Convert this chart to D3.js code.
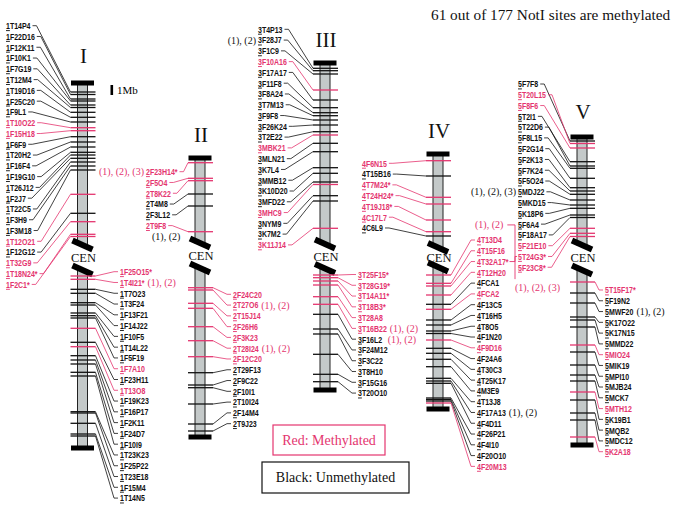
<!DOCTYPE html>
<html><head><meta charset="utf-8">
<script src="https://cdn.jsdelivr.net/npm/d3@7"></script>
<style>body{margin:0;background:#fff}svg{display:block}</style>
</head><body>
<svg id="chart" width="680" height="506"></svg>
<script>
// ---------------- DATA ----------------
const titleText = "61 out of 177 NotI sites are methylated";
const legendLabels = ["Red: Methylated", "Black: Unmethylated"];
const scaleLabel = "1Mb";

const chromosomes   = ["I", "II", "III", "IV", "V"];
const chromLengthMb = [36.5, 27.9, 32.7, 25.5, 30.8];
const cenStartMb    = [16.2, 8.5, 18.1, 9.35, 10.8];
const cenEndMb      = [18.7, 11.0, 20.55, 11.3, 13.3];

const chr1Names = ["1T14P4","1F22D16","1F12K11","1F10K1","1F7G19","1T12M4","1T19D16","1F25C20","1F9L1","1T10O22","1F15H18","1F6F9","1T20H2","1F16F4","1F19G10","1T26J12","1F2J7","1T22C5","1F3H9","1F3M18","1T12O21","1F12G12","1T32G9","1T18N24*","1F2C1*","1F25O15*","1T4I21*","1T7O23","1T3F24","1F13F21","1F14J22","1F10F5","1T14L22","1F5F19","1F7A10","1F23H11","1T13O8","1F19K23","1F16P17","1F2K11","1F24D7","1F10I9","1T23K23","1F25P22","1T23E18","1F15M4","1T14N5"];
const chr1Pos = [0.9,1.15,1.6,1.8,2.2,2.45,2.93,3.43,3.9,4.47,4.77,5.37,5.9,6.4,6.93,7.2,7.53,7.9,8.3,8.7,11.13,13.03,13.87,15.13,15.35,19.3,19.63,20.63,21.03,21.97,22.2,23.0,23.27,23.5,24.53,25.93,26.37,27.27,27.7,28.1,28.93,29.3,32.87,33.0,34.03,35.1,35.3];
const chr1Methyl = [0,0,0,0,0,0,0,0,0,1,1,0,0,0,0,0,0,0,0,0,1,0,1,1,1,1,1,0,0,0,0,0,0,0,1,0,1,0,0,0,0,0,0,0,0,0,0];

const chr2Names = ["2F23H14*","2F5O4","2T8K22","2T4M8","2F3L12","2T9F8","2F24C20","2T27O6","2T15J14","2F26H6","2F3K23","2T28I24","2F12C20","2T29F13","2F9C22","2F10I1","2T10I24","2F14M4","2T9J23"];
const chr2Pos = [0.47,2.03,2.27,3.6,4.8,7.37,12.97,13.2,14.53,15.03,16.87,18.27,19.87,21.47,22.7,22.97,24.6,26.6,27.3];
const chr2Methyl = [1,1,1,0,0,1,1,1,1,1,1,1,1,0,0,0,0,0,0];

const chr3Names = ["3T4P13","3F28J7","3F1C9","3F10A16","3F17A17","3F11F8","3F8A24","3T7M13","3F9F8","3F26K24","3T2E22","3MBK21","3MLN21","3K7L4","3MMB12","3K10D20","3MFD22","3MHC9","3NYM9","3K7M2","3K11J14","3T25F15*","3T28G19*","3T14A11*","3T18B3*","3T28A8","3T16B22","3F16L2","3F24M12","3F3C22","3T8H10","3F15G16","3T20O10"];
const chr3Pos = [0.53,0.77,1.1,2.7,3.7,4.47,4.97,5.27,5.7,6.2,6.87,7.2,8.03,8.87,10.47,11.03,11.9,12.15,13.27,13.8,16.53,21.2,21.47,21.8,22.2,23.37,24.13,25.13,26.6,27.1,29.13,31.13,31.87];
const chr3Methyl = [0,0,0,1,0,0,0,0,0,0,0,1,0,0,0,0,0,1,0,0,1,1,1,1,1,1,1,0,0,0,0,0,0];

const chr4Names = ["4F6N15","4T15B16","4T7M24*","4T24H24*","4T19J18*","4C17L7","4C6L9","4T13D4","4T15F16","4T32A17*","4T12H20","4FCA1","4FCA2","4F13C5","4T16H5","4T8O5","4F1N20","4F9D16","4F24A6","4T30C3","4T25K17","4M3E9","4T13J8","4F17A13","4F4D11","4F26P21","4F4I10","4F20O10","4F20M13"];
const chr4Pos = [0.67,2.2,4.33,5.0,6.6,7.77,8.2,12.1,12.93,13.2,14.1,15.03,15.53,16.6,17.1,17.7,17.95,18.6,19.43,19.93,20.53,21.27,22.43,22.7,22.93,24.4,24.55,24.7,24.9];
const chr4Methyl = [1,0,1,1,1,1,0,1,1,1,1,0,1,0,0,0,0,1,0,0,0,0,0,0,0,0,0,0,1];

const chr5Names = ["5F7F8","5T20L15","5F8F6","5T2I1","5T22D6","5F8L15","5F2G14","5F2K13","5F7K24","5F5O24","5MDJ22","5MKD15","5K18P6","5F6A4","5F18A17","5F21E10","5T24G3*","5F23C8*","5T15F17*","5F19N2","5MWF20","5K17O22","5K17N15","5MMD22","5MIO24","5MIK19","5MPI10","5MJB24","5MCK7","5MTH12","5K19B1","5MQB2","5MDC12","5K2A18"];
const chr5Pos = [0.4,0.65,1.1,2.47,2.9,3.13,4.13,5.07,5.4,5.73,6.3,6.8,7.13,7.8,8.05,9.13,9.63,9.95,14.5,15.6,16.6,18.0,18.3,19.0,20.8,21.5,22.8,23.8,24.4,25.5,26.3,27.6,28.3,30.0];
const chr5Methyl = [0,1,1,0,0,0,0,0,0,0,0,0,0,0,0,1,1,1,1,0,0,0,0,0,1,0,0,0,0,1,0,0,0,1];

// footnote marks attached to sites
const noteSites  = ["2F23H14*","3F28J7","5MDJ22","1T4I21*","2T27O6","2T28I24","3T16B22","4F17A13","5MWF20","2T9F8","4F9D16","4T32A17*","5T24G3*"];
const noteTexts  = ["(1), (2), (3)","(1), (2)","(1), (2), (3)","(1), (2)","(1), (2)","(1), (2)","(1), (2)","(1), (2)","(1), (2)","(1), (2)","(1), (2)","(1), (2)","(1), (2), (3)"];
const noteMethyl = [1,0,0,1,1,1,1,0,0,0,1,1,1];

// ---------------- LAYOUT ----------------
const siteNames  = [chr1Names, chr2Names, chr3Names, chr4Names, chr5Names];
const sitePos    = [chr1Pos, chr2Pos, chr3Pos, chr4Pos, chr5Pos];
const siteMethyl = [chr1Methyl, chr2Methyl, chr3Methyl, chr4Methyl, chr5Methyl];

const PX_PER_MB = 10, STEP = 10.78, SX = 0.73, FS = 9.6;
const RED = "#e4356f", BLACK = "#111";
const sansF = "'Liberation Sans', Arial, sans-serif";
const serifF = "'Liberation Serif', 'Times New Roman', serif";
const layout = [
  {cx: 82.5, top: 83,  numY: 63,  arms: [{side: "left", x: 6,   y0: 25.7}, {side: "right", x: 120, y0: 271.7}]},
  {cx: 200,  top: 158, numY: 142, arms: [{side: "left", x: 146, y0: 171.7}, {side: "right", x: 233, y0: 294.3}]},
  {cx: 325,  top: 63,  numY: 47,  arms: [{side: "left", x: 258, y0: 29.3}, {side: "right", x: 358, y0: 274.5}]},
  {cx: 438,  top: 154, numY: 138, arms: [{side: "left", x: 362, y0: 163.3}, {side: "right", x: 477, y0: 240}]},
  {cx: 582,  top: 137, numY: 119, arms: [{side: "left", x: 518, y0: 84}, {side: "right", x: 605, y0: 290}]}
];
const notePlacement = {
  "2F23H14*": "before", "3F28J7": "before", "5MDJ22": "before",
  "1T4I21*": "after", "2T27O6": "after", "2T28I24": "after", "3T16B22": "after", "4F17A13": "after", "5MWF20": "after",
  "2T9F8": "below", "4F9D16": "leftOfBar", "4T32A17*": "bracketUp", "5T24G3*": "bracketDown"
};

const svg = d3.select("#chart");
const col = m => m ? RED : BLACK;
const labelInfo = {};

// title
svg.append("text").attr("x", 431).attr("y", 20)
  .style("font-family", serifF).style("font-size", "15.3px").attr("fill", "#111").text(titleText);

chromosomes.forEach((name, i) => {
  const L = layout[i];
  const len = chromLengthMb[i], c0 = cenStartMb[i], c1 = cenEndMb[i];
  const y = d3.scaleLinear().domain([0, len]).range([L.top, L.top + len * PX_PER_MB]);
  const g = svg.append("g");

  if (i === 0) {
    g.append("rect").attr("x", 110.5).attr("y", 85).attr("width", 2.6).attr("height", y(1) - y(0)).attr("fill", "#000");
    g.append("text").attr("x", 117).attr("y", 94).style("font-family", serifF).style("font-size", "11px").text(scaleLabel);
  }

  g.append("text").attr("x", L.cx + 1).attr("y", L.numY).attr("text-anchor", "middle")
    .style("font-family", serifF).style("font-size", "21px").attr("fill", "#111").text(name);

  [[0, c0], [c1, len]].forEach(([a, b]) => {
    g.append("rect").attr("x", L.cx - 5).attr("y", y(a)).attr("width", 10).attr("height", y(b) - y(a))
      .attr("fill", "#c4c9c9").attr("stroke", "#222").attr("stroke-width", 1);
  });
  [0, len].forEach(v => g.append("rect").attr("x", L.cx - 11.5).attr("y", y(v) - 2.5)
    .attr("width", 23).attr("height", 5).attr("fill", "#000"));
  [c0, c1].forEach(v => g.append("rect").attr("x", -11).attr("y", -3).attr("width", 22).attr("height", 6)
    .attr("transform", `translate(${L.cx},${y(v)}) rotate(24)`).attr("fill", "#000"));
  g.append("text").attr("x", L.cx + 1).attr("y", (y(c0) + y(c1)) / 2 + 4.5).attr("text-anchor", "middle")
    .style("font-family", serifF).style("font-size", "12.5px").attr("fill", "#111").text("CEN");

  const names = siteNames[i], pos = sitePos[i], met = siteMethyl[i];
  const armIdx = [0, 0];
  names.forEach((s, j) => {
    const arm = pos[j] < c0 ? 0 : 1;
    const A = L.arms[arm];
    const ly = A.y0 + armIdx[arm] * STEP;
    armIdx[arm]++;
    const ty = y(pos[j]);
    const color = col(met[j]);
    g.append("line").attr("x1", L.cx - 12).attr("x2", L.cx + 13).attr("y1", ty).attr("y2", ty)
      .attr("stroke", color).attr("stroke-width", 1.3);
    const t = g.append("text").attr("transform", `translate(${A.x},${ly}) scale(${SX},1)`).attr("dy", "0.35em")
      .style("font-family", sansF).style("font-size", FS + "px").style("font-weight", "bold")
      .attr("fill", color).text(s);
    const w = t.node().getComputedTextLength() * SX;
    const w1 = t.node().getSubStringLength(0, 1) * SX;
    g.append("line").attr("x1", A.x).attr("x2", A.x + w1).attr("y1", ly + 4.9).attr("y2", ly + 4.9)
      .attr("stroke", color).attr("stroke-width", 0.9);
    let path;
    if (A.side === "left") path = `M${A.x + w + 2},${ly}H${A.x + w + 6}L${L.cx - 12},${ty}`;
    else path = `M${L.cx + 13},${ty}L${A.x - 6},${ly}H${A.x - 2}`;
    g.append("path").attr("d", path).attr("fill", "none").attr("stroke", color).attr("stroke-width", 0.8);
    labelInfo[s] = {x: A.x, y: ly, w: w, ty: ty, cx: L.cx};
  });
});

// footnotes
noteSites.forEach((s, k) => {
  const info = labelInfo[s];
  const color = col(noteMethyl[k]);
  const kind = notePlacement[s];
  const nt = svg.append("text").style("font-family", serifF).style("font-size", "10px").attr("fill", color)
    .attr("dy", "0.35em").text(noteTexts[k]);
  if (kind === "before") nt.attr("x", info.x - 2).attr("y", info.y).attr("text-anchor", "end");
  else if (kind === "after") nt.attr("x", info.x + info.w + 3).attr("y", info.y);
  else if (kind === "below") nt.attr("x", info.x + 6).attr("y", info.y + STEP);
  else if (kind === "leftOfBar") nt.attr("x", info.cx - 22).attr("y", info.ty - 1).attr("text-anchor", "end");
  else if (kind === "bracketUp") {
    const ny = info.y - 3.4 * STEP, bx = info.x + 38;
    nt.attr("x", info.x - 2).attr("y", ny);
    const nw = nt.node().getComputedTextLength();
    svg.append("path").attr("d", `M${info.x + nw + 2},${ny}H${bx}V${info.y}H${info.x + info.w + 1}`)
      .attr("fill", "none").attr("stroke", color).attr("stroke-width", 0.9);
  } else if (kind === "bracketDown") {
    const bx = info.x - 3;
    nt.attr("x", info.x - 3).attr("y", info.y + 2.9 * STEP);
    svg.append("path").attr("d", `M${info.x - 1},${info.y}H${bx}V${info.y + 2.1 * STEP}`)
      .attr("fill", "none").attr("stroke", color).attr("stroke-width", 0.9);
  }
});

// legend boxes
const legendBoxes = [{x: 273, y: 425, w: 112, h: 30}, {x: 262, y: 462, w: 147, h: 31}];
legendLabels.forEach((lab, k) => {
  const b = legendBoxes[k];
  const color = k === 0 ? RED : BLACK;
  svg.append("rect").attr("x", b.x).attr("y", b.y).attr("width", b.w).attr("height", b.h)
    .attr("fill", "none").attr("stroke", color).attr("stroke-width", 1.2);
  svg.append("text").attr("x", b.x + b.w / 2).attr("y", b.y + b.h / 2).attr("dy", "0.35em").attr("text-anchor", "middle")
    .style("font-family", serifF).style("font-size", "14px").attr("fill", color).text(lab);
});
</script>
</body></html>
